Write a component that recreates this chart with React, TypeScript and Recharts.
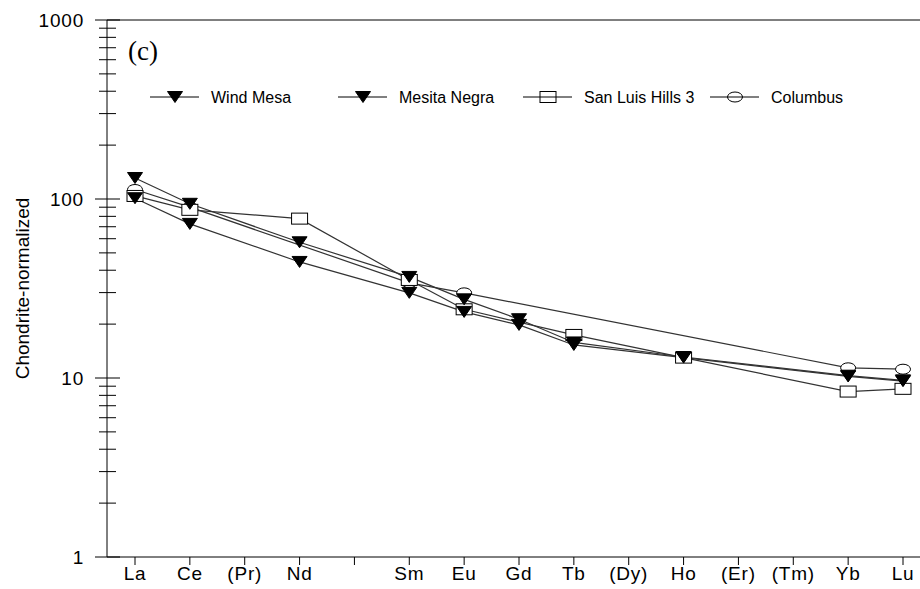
import React from "react"
import { LineChart, Line, XAxis, YAxis, ReferenceLine, Customized } from "recharts"

// REE pattern, chondrite-normalized (Pm slot left empty)
const elements = ["La", "Ce", "(Pr)", "Nd", "", "Sm", "Eu", "Gd", "Tb", "(Dy)", "Ho", "(Er)", "(Tm)", "Yb", "Lu"]
const windMesa = [131, 94, null, 57.3, null, 36.7, 27.5, 21.3, 15.8, null, 13.1, null, null, 10.3, 9.7]
const mesitaNegra = [101, 72.6, null, 44.5, null, 29.9, 23.4, 19.8, 15.3, null, 13, null, null, 10.2, 9.6]
const sanLuisHills3 = [104, 87, null, 77.7, null, 35.3, 24.2, null, 17.4, null, 13, null, null, 8.4, 8.7]
const columbus = [113, 90, null, null, null, 34, 29.9, null, null, null, null, null, null, 11.4, 11.2]

const yTicks = [1, 2, 3, 4, 5, 6, 7, 8, 9, 10, 20, 30, 40, 50, 60, 70, 80, 90, 100, 200, 300, 400, 500, 600, 700, 800, 900, 1000]
const yMajor = [1, 10, 100, 1000]

const seriesNames = ["Wind Mesa", "Mesita Negra", "San Luis Hills 3", "Columbus"]

const data = elements.map((el, i) => ({
  el,
  wind: windMesa[i],
  mesita: mesitaNegra[i],
  sanluis: sanLuisHills3[i],
  columbus: columbus[i],
}))

const FONT = "'Liberation Sans', Arial, sans-serif"
const LINE = "#333"

const Tri = ({ cx, cy }: any) => (
  <polygon points={`${cx - 7.5},${cy - 5.5} ${cx + 7.5},${cy - 5.5} ${cx},${cy + 5.5}`} fill="#000" stroke="#000" />
)
const Box = ({ cx, cy, fill = "#fff" }: any) => (
  <rect x={cx - 8} y={cy - 5.5} width={16} height={11} fill={fill} stroke="#000" />
)
const Oval = ({ cx, cy, fill = "#fff" }: any) => (
  <ellipse cx={cx} cy={cy} rx={7.5} ry={5} fill={fill} stroke="#000" />
)

const dotOf = (Shape: any) => (props: any) => {
  const { cx, cy, key } = props
  if (cx == null || cy == null || props.value == null) return <g key={key} />
  return <Shape key={key} cx={cx} cy={cy} />
}

const YTick = (props: any) => {
  const { x, y, payload } = props
  const major = yMajor.includes(payload.value)
  return (
    <g>
      {major ? (
        <line x1={x - 12} x2={x + 13} y1={y} y2={y} stroke="#000" />
      ) : (
        <line x1={x - 8} x2={x + 9} y1={y} y2={y} stroke="#000" />
      )}
      {major && (
        <text x={x - 23} y={y} dy={7} textAnchor="end" fontSize={19} letterSpacing={0.8} fontFamily={FONT} fill="#000">
          {payload.value}
        </text>
      )}
    </g>
  )
}

const legendX = [150, 338, 523, 710]
const legendShapes = [Tri, Tri, Box, Oval]

// legend and panel tag drawn straight into the chart svg
const Extras = () => (
  <g>
    <text x={128} y={60} fontSize={27} fontFamily="'Liberation Serif', 'Times New Roman', serif" fill="#000">
      (c)
    </text>
    {seriesNames.map((name, i) => {
      const Shape = legendShapes[i]
      const x0 = legendX[i]
      const y0 = 97
      return (
        <g key={name}>
          <line x1={x0} x2={x0 + 49} y1={y0} y2={y0} stroke="#000" />
          <Shape cx={x0 + 25} cy={y0} fill="none" />
          <text x={x0 + 61} y={y0 + 6} fontSize={16} fontFamily={FONT} fill="#000">{name}</text>
        </g>
      )
    })}
  </g>
)

export default function App() {
  return (
    <div style={{ position: "fixed", left: 0, top: 0, width: 920, height: 589, overflow: "hidden", background: "#fff" }}>
      <LineChart width={940} height={589} data={data} margin={{ top: 20, right: 10, bottom: 0, left: 0 }}>
        <XAxis
          dataKey="el"
          interval={0}
          padding={{ left: 28, right: 27 }}
          height={32}
          tickSize={8}
          stroke="#000"
          tick={{ fontSize: 19, fontFamily: FONT, fill: "#000", letterSpacing: 0.8 }}
        />
        <YAxis
          scale="log"
          domain={[1, 1000]}
          ticks={yTicks}
          interval={0}
          allowDataOverflow
          width={107}
          tickSize={0}
          tickMargin={0}
          tickLine={false}
          stroke="#000"
          tick={<YTick />}
          label={{
            value: "Chondrite-normalized",
            angle: -90,
            position: "insideLeft",
            offset: 22,
            fontSize: 19,
            fontFamily: FONT,
            fill: "#000",
            style: { textAnchor: "middle" },
          }}
        />
        <ReferenceLine y={1000} stroke="#000" />
        <Line dataKey="columbus" name={seriesNames[3]} stroke={LINE} strokeWidth={1.2} connectNulls dot={dotOf(Oval)} isAnimationActive={false} />
        <Line dataKey="sanluis" name={seriesNames[2]} stroke={LINE} strokeWidth={1.2} connectNulls dot={dotOf(Box)} isAnimationActive={false} />
        <Line dataKey="mesita" name={seriesNames[1]} stroke={LINE} strokeWidth={1.2} connectNulls dot={dotOf(Tri)} isAnimationActive={false} />
        <Line dataKey="wind" name={seriesNames[0]} stroke={LINE} strokeWidth={1.2} connectNulls dot={dotOf(Tri)} isAnimationActive={false} />
        <Customized component={Extras} />
      </LineChart>
    </div>
  )
}
